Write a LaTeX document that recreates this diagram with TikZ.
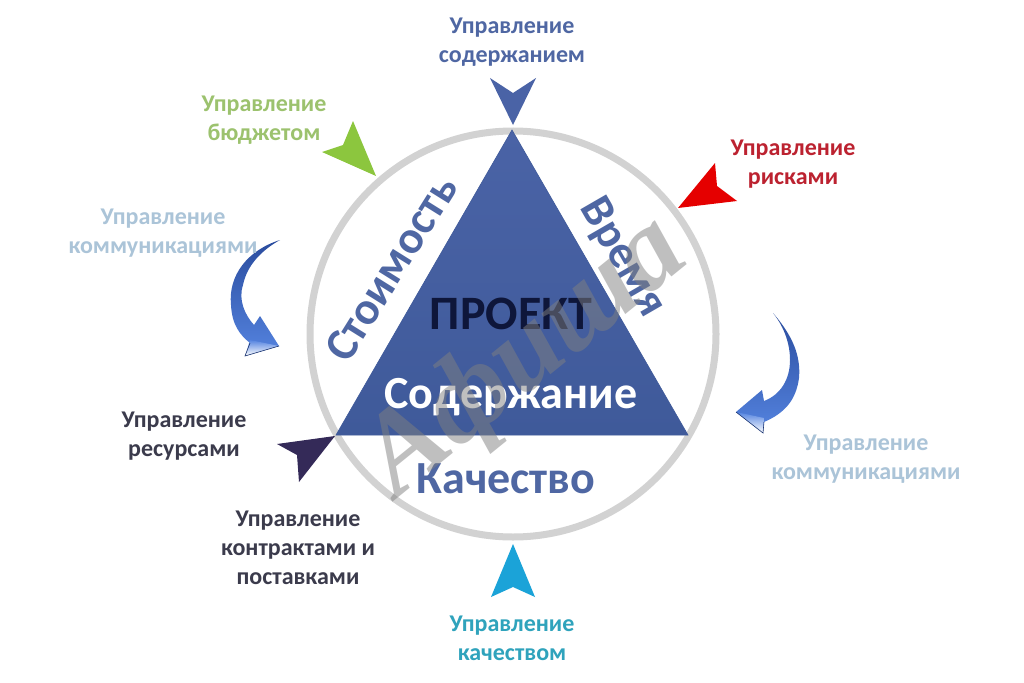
\documentclass[tikz,border=0pt]{standalone}
\usepackage{fontspec}
\setmainfont{Carlito}
\newfontfamily\wmfont{Liberation Serif}
\begin{document}
\begin{tikzpicture}[x=1pt,y=-1pt,
  lab/.style={font=\fontsize{24}{29}\selectfont\bfseries,align=center,inner sep=0pt},
  big/.style={font=\fontsize{46}{48}\selectfont\bfseries,inner sep=0pt},
  head/.style={draw=none}]
\definecolor{tri}{HTML}{4A63A6}
\definecolor{trid}{HTML}{3F5A9A}
\definecolor{ring}{HTML}{D2D2D2}
\definecolor{bl}{HTML}{4F67A3}
\definecolor{gr}{HTML}{9CC26E}
\definecolor{re}{HTML}{BC2230}
\definecolor{lb}{HTML}{ABC4D8}
\definecolor{dk}{HTML}{3B3B4C}
\definecolor{cy}{HTML}{2FA3BC}
\definecolor{adark}{HTML}{2A4C9E}
\definecolor{alight}{HTML}{5584E0}
\useasboundingbox[fill=white] (0,0) rectangle (1024,682);
\draw[ring,line width=7pt] (513,334) circle (203);
\shade[top color=tri,bottom color=trid,draw=trid,line width=0.6pt] (512,130) -- (688,435) -- (336,435) -- cycle;
% arrowheads
\fill[head,fill=tri] (490,78) -- (513,93) -- (536,78) -- (513,125) -- cycle;
\fill[head,fill={rgb,255:red,140;green,198;blue,62}] (376,176) -- (353,121) -- (343,145) -- (322,152) -- cycle;
\fill[head,fill=red!90!black] (678,208) -- (715,163) -- (717,186) -- (737,201) -- cycle;
\fill[head,fill={rgb,255:red,52;green,42;blue,88}] (335,436) -- (277,444) -- (297,455) -- (299,482) -- cycle;
\fill[head,fill={rgb,255:red,27;green,163;blue,216}] (513,544) -- (491,597) -- (513,587) -- (535,597) -- cycle;
% curved arrows
\shade[top color=adark,bottom color=alight]
  (280,240) .. controls (248,250) and (228,275) .. (231,305)
  .. controls (232,325) and (240,335) .. (250,343) -- (245,356) -- (279,346) -- (260,316) -- (254,325)
  .. controls (245,315) and (238,300) .. (243,285) .. controls (247,265) and (262,250) .. (280,240) -- cycle;
\shade[top color=alight,bottom color=white]
  (250,340) -- (245,356) -- (279,346) -- cycle;
\draw[adark!70!black,line width=0.6pt] (250,343) -- (245,356) -- (279,346);
\shade[top color=adark,bottom color=alight]
  (773,313) .. controls (792,335) and (801,355) .. (799,378)
  .. controls (796,400) and (785,413) .. (764,422) -- (763,433) -- (736,412) -- (762,390) -- (764,401)
  .. controls (780,395) and (790,380) .. (790,360) .. controls (790,345) and (785,328) .. (773,313) -- cycle;
\shade[top color=alight,bottom color=white]
  (764,418) -- (763,433) -- (736,412) -- cycle;
\draw[adark!70!black,line width=0.6pt] (764,422) -- (763,433) -- (736,412);
% labels
\node[lab,text=bl] (l1) at (512,42) {Управление\\содержанием};
\node[lab,text=gr] (l2) at (264,120) {Управление\\бюджетом};
\node[lab,text=re] (l3) at (793,164) {Управление\\рисками};
\node[lab,text=lb] (l4) at (163,233) {Управление\\коммуникациями};
\node[lab,text=lb] (l5) at (866,459) {Управление\\коммуникациями};
\node[lab,text=dk] (l6) at (184,436) {Управление\\ресурсами};
\node[lab,text=dk] (l7) at (298,548) {Управление\\контрактами и\\поставками};
\node[lab,text=cy] (l8) at (512,638) {Управление\\качеством};
\node[big,text=bl,rotate=58] (t1) at (391,268) {Стоимость};
\node[big,text=bl,rotate=-60] (t2) at (622,258) {Время};
\node[big,text=bl,font=\fontsize{46}{48}\selectfont\bfseries] (t3) at (506,479) {Качество};
\node[big,text={rgb,255:red,14;green,22;blue,58},font=\fontsize{48}{48}\selectfont\bfseries] (t4) at (511,314) {ПРОЕКТ};
\node[big,text=white] (t5) at (511,397) {Содержание};
\node[inner sep=0pt,rotate=39,text=gray,opacity=0.5,font=\wmfont\fontsize{116}{116}\selectfont\bfseries\itshape] (wm) at (527,358) {Афиша};
\end{tikzpicture}
\end{document}
